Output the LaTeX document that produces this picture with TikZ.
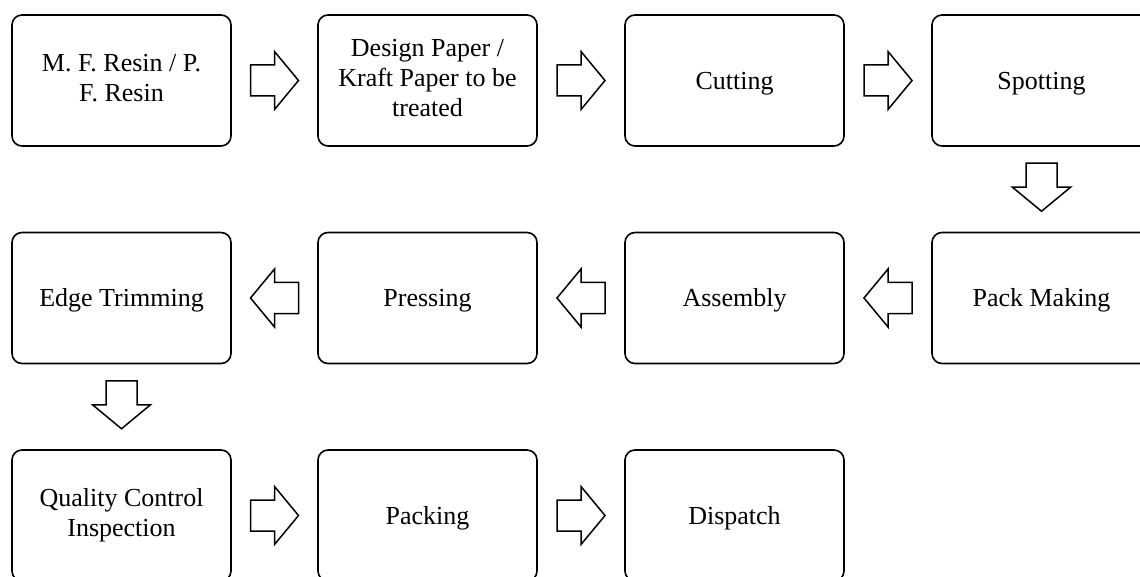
\documentclass[tikz,border=0pt]{standalone}
\usepackage{fontspec}
\setmainfont{Liberation Serif}
\usetikzlibrary{calc}
\newcommand\boxstrut{\rule[-5.6pt]{0pt}{28.8pt}}
\tikzset{
  stepbox/.style={draw, line width=1.6pt, rounded corners=10pt, minimum width=219pt, minimum height=131pt,
     inner sep=0pt, align=center, font=\fontsize{26}{30}\selectfont,
     execute at begin node=\boxstrut, execute at end node=\boxstrut},
  blk/.pic={\draw[line width=1.5pt, line join=miter, fill=white]
     (-24,-15.5) -- (0,-15.5) -- (0,-29) -- (24,0) -- (0,29) -- (0,15.5) -- (-24,15.5) -- cycle;}
}
\begin{document}
\begin{tikzpicture}[x=1pt,y=-1pt]
\useasboundingbox (0,0) rectangle (1140,577);
\clip (0,0) rectangle (1140,577);
% row 1
\node[stepbox] (a1) at (121.5,80.5) {M. F. Resin / P.\\F. Resin};
\node[stepbox] (a2) at (427.5,80.5) {Design Paper /\\Kraft Paper to be\\treated};
\node[stepbox] (a3) at (734.5,80.5) {Cutting};
\node[stepbox] (a4) at (1041.5,80.5) {Spotting};
% row 2
\node[stepbox] (b4) at (1041.5,298) {Pack Making};
\node[stepbox] (b3) at (734.5,298) {Assembly};
\node[stepbox] (b2) at (427.5,298) {Pressing};
\node[stepbox] (b1) at (121.5,298) {Edge Trimming};
% row 3
\node[stepbox] (c1) at (121.5,515.5) {Quality Control\\Inspection};
\node[stepbox] (c2) at (427.5,515.5) {Packing};
\node[stepbox] (c3) at (734.5,515.5) {Dispatch};
% connectors
\pic at ($(a1.east)!0.5!(a2.west)$) {blk};
\pic at ($(a2.east)!0.5!(a3.west)$) {blk};
\pic at ($(a3.east)!0.5!(a4.west)$) {blk};
\pic[rotate=-90] at ($(a4.south)!0.5!(b4.north)+(0,-2)$) {blk};
\pic[rotate=180] at ($(b4.west)!0.5!(b3.east)$) {blk};
\pic[rotate=180] at ($(b3.west)!0.5!(b2.east)$) {blk};
\pic[rotate=180] at ($(b2.west)!0.5!(b1.east)$) {blk};
\pic[rotate=-90] at ($(b1.south)!0.5!(c1.north)+(0,-2)$) {blk};
\pic at ($(c1.east)!0.5!(c2.west)$) {blk};
\pic at ($(c2.east)!0.5!(c3.west)$) {blk};
\end{tikzpicture}
\end{document}
